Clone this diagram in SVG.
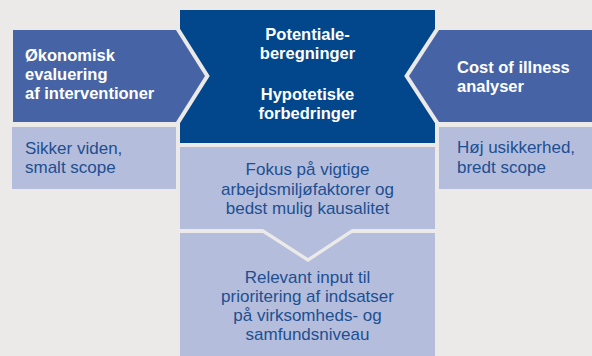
<svg xmlns="http://www.w3.org/2000/svg" width="592" height="356" viewBox="0 0 592 356">
<style>
.bg{fill:#EBEAE8}
.dark{fill:#02468C}
.mid{fill:#4664A5}
.light{fill:#B4BDDC}
.gap{fill:none;stroke:#EBEAE8;stroke-width:8;stroke-linejoin:miter}
.w{font-family:"Liberation Sans",Arial,sans-serif;font-weight:bold;font-size:16.5px;fill:#FFFFFF}
.b{font-family:"Liberation Sans",Arial,sans-serif;font-size:17px;fill:#1E4F91}
.c{text-anchor:middle}
</style>
<rect class="bg" x="0" y="0" width="592" height="356"/>
<g id="center-top">
<rect class="dark" x="180" y="10" width="255" height="133"/>
<text class="w c" x="307.5" y="40">Potentiale-</text>
<text class="w c" x="307.5" y="59">beregninger</text>
<text class="w c" x="307.5" y="100">Hypotetiske</text>
<text class="w c" x="307.5" y="119">forbedringer</text>
</g>
<g id="left-arrow">
<polygon class="gap" points="13,30 176,30 205,76 176,122 13,122"/>
<polygon class="mid" points="13,30 176,30 205,76 176,122 13,122"/>
<text class="w" x="25" y="61">Økonomisk</text>
<text class="w" x="25" y="80">evaluering</text>
<text class="w" x="25" y="99">af interventioner</text>
</g>
<g id="right-arrow">
<polygon class="gap" points="591,30 439,30 409,76 439,122 591,122"/>
<polygon class="mid" points="592,30 439,30 409,76 439,122 592,122"/>
<text class="w" x="457" y="73">Cost of illness</text>
<text class="w" x="457" y="92">analyser</text>
</g>
<g id="left-box">
<rect class="light" x="12" y="127" width="164" height="62"/>
<text class="b" x="25" y="154">Sikker viden,</text>
<text class="b" x="25" y="173">smalt scope</text>
</g>
<g id="right-box">
<rect class="light" x="439" y="127" width="153" height="62"/>
<text class="b" x="457" y="153">Høj usikkerhed,</text>
<text class="b" x="457" y="173">bredt scope</text>
</g>
<g id="center-middle">
<polygon class="light" points="180,147 435,147 435,229 352,229 308,258 263,229 180,229"/>
<text class="b c" x="307.5" y="175">Fokus på vigtige</text>
<text class="b c" x="307.5" y="195">arbejdsmiljøfaktorer og</text>
<text class="b c" x="307.5" y="214">bedst mulig kausalitet</text>
</g>
<g id="center-bottom">
<polygon class="light" points="180,233 263,233 308,262 352,233 435,233 435,356 180,356"/>
<text class="b c" x="307.5" y="283">Relevant input til</text>
<text class="b c" x="307.5" y="302">prioritering af indsatser</text>
<text class="b c" x="307.5" y="321">på virksomheds- og</text>
<text class="b c" x="307.5" y="340">samfundsniveau</text>
</g>
<g id="connectors"/>
</svg>
